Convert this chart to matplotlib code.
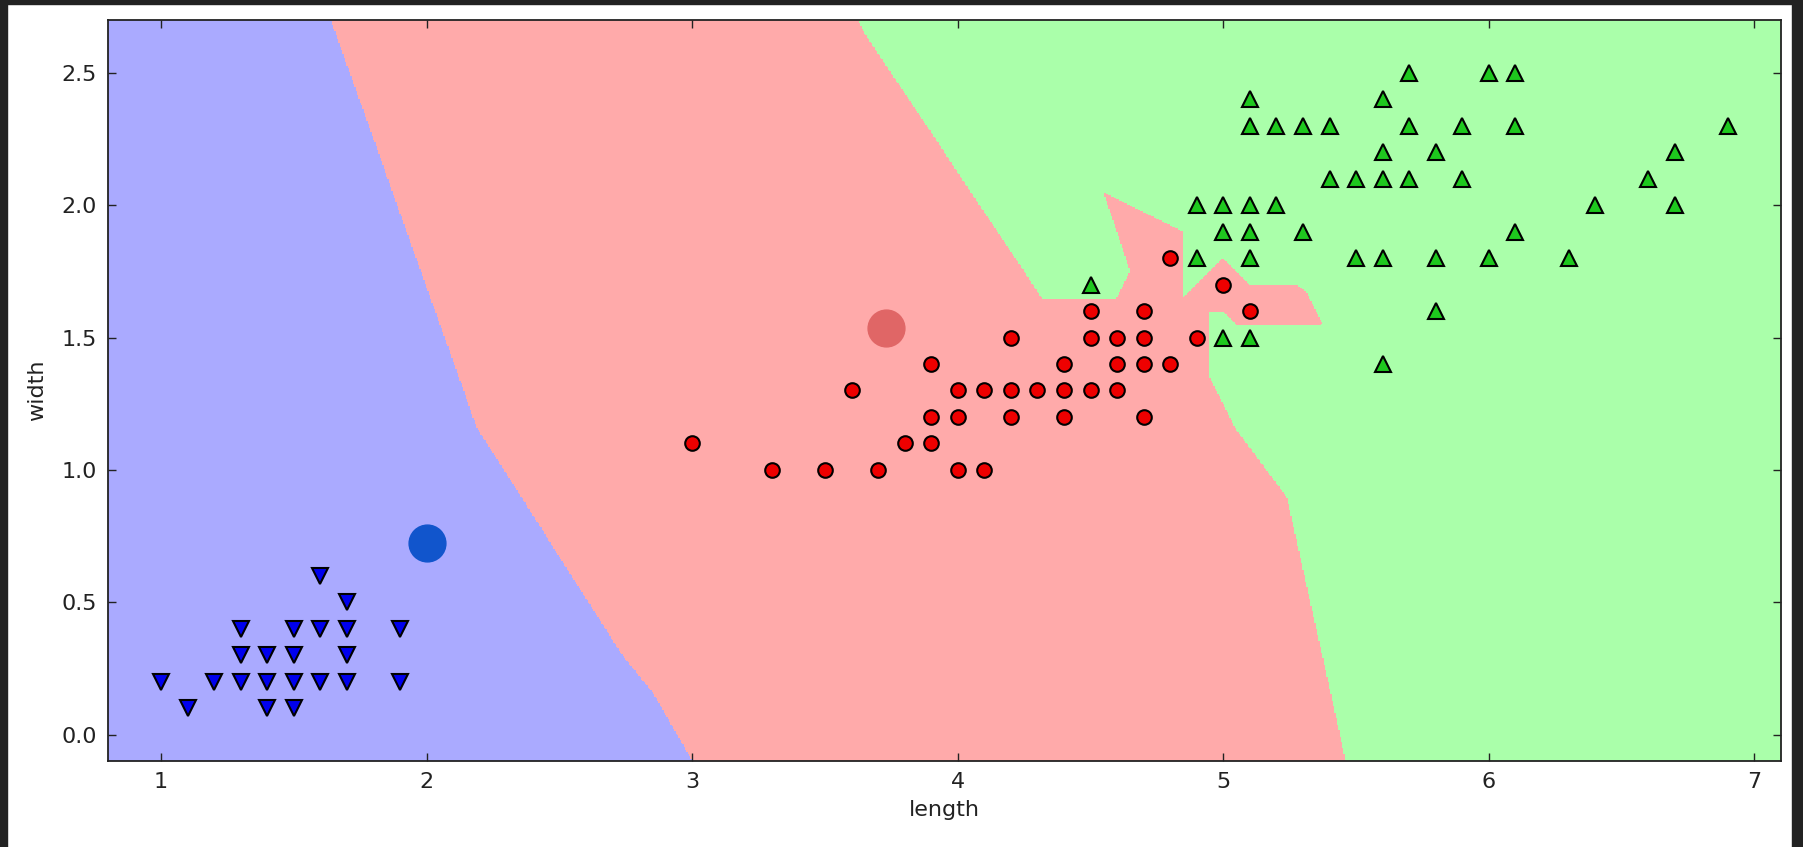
import matplotlib
matplotlib.use("Agg")
import matplotlib.pyplot as plt
import numpy as np
from matplotlib.colors import ListedColormap
from matplotlib.patches import Rectangle

# petal (length, width) of the samples shown, one list per class
setosa_len = [1.0, 1.1, 1.2, 1.3, 1.3, 1.3, 1.4, 1.4, 1.4, 1.5, 1.5, 1.5, 1.5,
              1.6, 1.6, 1.6, 1.7, 1.7, 1.7, 1.7, 1.9, 1.9]
setosa_wid = [0.2, 0.1, 0.2, 0.2, 0.3, 0.4, 0.1, 0.2, 0.3, 0.1, 0.2, 0.3, 0.4,
              0.2, 0.4, 0.6, 0.2, 0.3, 0.4, 0.5, 0.2, 0.4]

versi_len = [3.0, 3.3, 3.5, 3.6, 3.7, 3.8, 3.9, 3.9, 3.9, 4.0, 4.0, 4.0, 4.1,
             4.1, 4.2, 4.2, 4.2, 4.3, 4.4, 4.4, 4.4, 4.5, 4.5, 4.5, 4.6, 4.6,
             4.6, 4.7, 4.7, 4.7, 4.7, 4.8, 4.8, 4.9, 5.0, 5.1]
versi_wid = [1.1, 1.0, 1.0, 1.3, 1.0, 1.1, 1.1, 1.2, 1.4, 1.0, 1.2, 1.3, 1.0,
             1.3, 1.2, 1.3, 1.5, 1.3, 1.2, 1.3, 1.4, 1.3, 1.5, 1.6, 1.3, 1.4,
             1.5, 1.2, 1.4, 1.5, 1.6, 1.4, 1.8, 1.5, 1.7, 1.6]

virg_len = [4.5, 4.9, 4.9, 5.0, 5.0, 5.0, 5.1, 5.1, 5.1, 5.1, 5.1, 5.1, 5.2,
            5.2, 5.3, 5.3, 5.4, 5.4, 5.5, 5.5, 5.6, 5.6, 5.6, 5.6, 5.6, 5.7,
            5.7, 5.7, 5.8, 5.8, 5.8, 5.9, 5.9, 6.0, 6.0, 6.1, 6.1, 6.1, 6.3,
            6.4, 6.6, 6.7, 6.7, 6.9]
virg_wid = [1.7, 1.8, 2.0, 1.5, 1.9, 2.0, 1.5, 1.8, 1.9, 2.0, 2.3, 2.4, 2.0,
            2.3, 1.9, 2.3, 2.1, 2.3, 1.8, 2.1, 1.4, 1.8, 2.1, 2.2, 2.4, 2.1,
            2.3, 2.5, 1.6, 1.8, 2.2, 2.1, 2.3, 1.8, 2.5, 1.9, 2.3, 2.5, 1.8,
            2.0, 2.1, 2.0, 2.2, 2.3]

# the two large highlighted points
new_len = [2.0, 3.73]
new_wid = [0.725, 1.535]
new_colors = ['#1155CC', '#E06666']

# 1-nearest-neighbour map over the plot area
X = np.column_stack([setosa_len + versi_len + virg_len,
                     setosa_wid + versi_wid + virg_wid])
y = np.array([0] * len(setosa_len) + [1] * len(versi_len) + [2] * len(virg_len))

x_min, x_max = X[:, 0].min() - 0.2, X[:, 0].max() + 0.2
y_min, y_max = X[:, 1].min() - 0.2, X[:, 1].max() + 0.2
h = 0.005
xx, yy = np.meshgrid(np.arange(x_min, x_max + h, h), np.arange(y_min, y_max + h, h))
best = np.full(xx.shape, np.inf)
Z = np.zeros(xx.shape, dtype=int)
for (px, py), lab in zip(X, y):
    d = (xx - px) ** 2 + (yy - py) ** 2
    closer = d < best
    best[closer] = d[closer]
    Z[closer] = lab

cmap_light = ListedColormap(['#AAAAFF', '#FFAAAA', '#AAFFAA'])

fig = plt.figure(figsize=(18.03, 8.47), dpi=100)
fig.patch.set_facecolor('white')
ax = fig.add_axes([108 / 1803, 86 / 847, 1673 / 1803, 741 / 847])

ax.pcolormesh(xx, yy, Z, cmap=cmap_light, shading='auto', vmin=0, vmax=2)

ax.plot(virg_len, virg_wid, '^', color='#1ec81e', mec='black', mew=1.5, ms=11, ls='none')
ax.plot(setosa_len, setosa_wid, 'v', color='#0000EE', mec='black', mew=1.5, ms=11, ls='none')
ax.plot(versi_len, versi_wid, 'o', color='#EE0000', mec='black', mew=1.5, ms=10.5, ls='none')
for lx, wy, c in zip(new_len, new_wid, new_colors):
    ax.plot(lx, wy, 'o', color=c, mec=c, ms=26.5, zorder=5)

ax.set_xlim(x_min, x_max)
ax.set_ylim(y_min, y_max)
ax.set_xticks([1, 2, 3, 4, 5, 6, 7])
ax.set_yticks([0.0, 0.5, 1.0, 1.5, 2.0, 2.5])
ax.tick_params(direction='in', top=True, right=True, length=6, width=1,
               labelsize=16, pad=8, colors='#222222')
for s in ax.spines.values():
    s.set_linewidth(1.3)
    s.set_color('#222222')
ax.set_xlabel('length', fontsize=16, labelpad=6, color='#222222')
ax.set_ylabel('width', fontsize=16, labelpad=10, color='#222222')

# dark screenshot border
dark = '#222222'
fig.patches.append(Rectangle((0, 1 - 4 / 847), 1, 4 / 847, transform=fig.transFigure, color=dark))
fig.patches.append(Rectangle((0, 0), 7 / 1803, 1, transform=fig.transFigure, color=dark))
fig.patches.append(Rectangle((1792 / 1803, 0), 11 / 1803, 1, transform=fig.transFigure, color=dark))

fig.savefig('out.png', dpi=100)
